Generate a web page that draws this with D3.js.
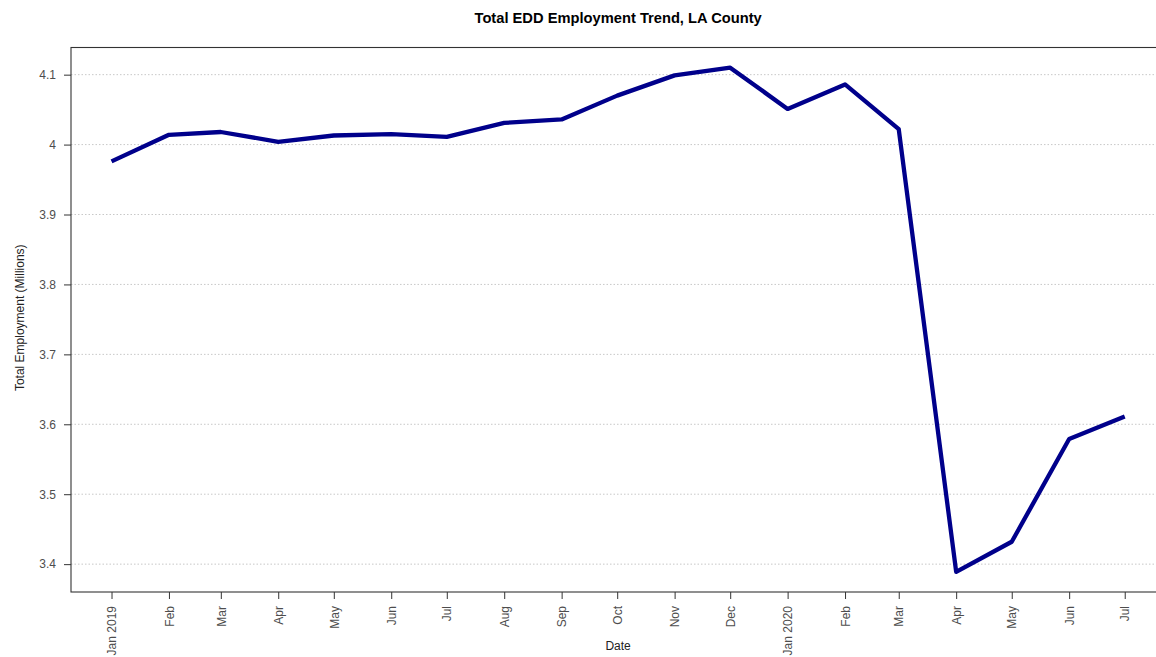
<!DOCTYPE html>
<html>
<head>
<meta charset="utf-8">
<script src="https://cdn.jsdelivr.net/npm/d3@7"></script>
<style>
  html, body { margin: 0; padding: 0; background: #fff; }
  svg { display: block; font-family: "Liberation Sans", Arial, sans-serif; }
</style>
</head>
<body>
<svg id="chart" width="1156" height="657"></svg>
<script>
// Monthly total employment, LA County (millions)
const months = ["2019-01-01","2019-02-01","2019-03-01","2019-04-01","2019-05-01","2019-06-01",
                "2019-07-01","2019-08-01","2019-09-01","2019-10-01","2019-11-01","2019-12-01",
                "2020-01-01","2020-02-01","2020-03-01","2020-04-01","2020-05-01","2020-06-01","2020-07-01"];
const employment = [3.976, 4.014, 4.018, 4.004, 4.013, 4.015,
                    4.011, 4.031, 4.036, 4.070, 4.099, 4.110,
                    4.051, 4.086, 4.022, 3.389, 3.432, 3.579, 3.611];
const monthLabels = ["Jan 2019","Feb","Mar","Apr","May","Jun","Jul","Aug","Sep","Oct","Nov","Dec",
                     "Jan 2020","Feb","Mar","Apr","May","Jun","Jul"];
const yTicks = [3.4, 3.5, 3.6, 3.7, 3.8, 3.9, 4.0, 4.1];

(function () {
  const parse = d3.utcParse("%Y-%m-%d");
  const data = months.map((m, i) => ({ date: parse(m), value: employment[i] }));

  const svg = d3.select("#chart");
  const panelLeft = 71, panelTop = 47.5, panelBottom = 592;

  // 4% padding on each side of the data range
  const xExt = d3.extent(data, d => d.date);
  const xPad = (xExt[1] - xExt[0]) * 0.04;
  const xDomain = [new Date(+xExt[0] - xPad), new Date(+xExt[1] + xPad)];
  const pxPerMs = (1125.5 - 112.3) / (xExt[1] - xExt[0]);
  const panelRight = panelLeft + (xDomain[1] - xDomain[0]) * pxPerMs;

  const yExt = d3.extent(employment);
  const yPad = (yExt[1] - yExt[0]) * 0.04;

  const x = d3.scaleUtc().domain(xDomain).range([panelLeft, panelRight]);
  const y = d3.scaleLinear().domain([yExt[0] - yPad, yExt[1] + yPad]).range([panelBottom, panelTop]);

  svg.append("defs").append("clipPath").attr("id", "panel")
    .append("rect").attr("x", panelLeft).attr("y", panelTop)
    .attr("width", panelRight - panelLeft).attr("height", panelBottom - panelTop);

  // horizontal dotted grid
  svg.append("g").selectAll("line").data(yTicks).join("line")
    .attr("x1", panelLeft).attr("x2", panelRight)
    .attr("y1", d => y(d)).attr("y2", d => y(d))
    .attr("stroke", "#c8c8c8").attr("stroke-width", 1)
    .attr("stroke-dasharray", "1.5,2");

  // employment line
  svg.append("path")
    .datum(data)
    .attr("clip-path", "url(#panel)")
    .attr("fill", "none")
    .attr("stroke", "#00008B")
    .attr("stroke-width", 4.3)
    .attr("stroke-linejoin", "round")
    .attr("stroke-linecap", "butt")
    .attr("d", d3.line().x(d => x(d.date)).y(d => y(d.value)));

  // y axis
  const yAxis = svg.append("g")
    .attr("transform", `translate(${panelLeft},0)`)
    .call(d3.axisLeft(y).tickValues(yTicks).tickSize(7).tickPadding(8)
      .tickFormat(d => String(+d.toFixed(1))));
  yAxis.select(".domain").remove();
  yAxis.selectAll(".tick line").attr("stroke", "#333");
  yAxis.selectAll("text").attr("fill", "#4d4d4d").attr("font-size", 12)
    .attr("font-family", "Liberation Sans, Arial, sans-serif");

  // x axis
  const xAxis = svg.append("g")
    .attr("transform", `translate(0,${panelBottom})`)
    .call(d3.axisBottom(x).tickValues(data.map(d => d.date)).tickSize(7)
      .tickFormat((d, i) => monthLabels[i]));
  xAxis.select(".domain").remove();
  xAxis.selectAll(".tick line").attr("stroke", "#333");
  xAxis.selectAll("text")
    .attr("fill", "#4d4d4d").attr("font-size", 12)
    .attr("font-family", "Liberation Sans, Arial, sans-serif")
    .attr("text-anchor", "end")
    .attr("transform", "rotate(-90)")
    .attr("x", -14).attr("y", 0).attr("dy", "0.35em");

  // panel border
  svg.append("rect")
    .attr("x", panelLeft).attr("y", panelTop)
    .attr("width", panelRight - panelLeft).attr("height", panelBottom - panelTop)
    .attr("fill", "none").attr("stroke", "#333").attr("stroke-width", 1.1);

  // titles
  svg.append("text")
    .attr("x", (panelLeft + panelRight) / 2).attr("y", 23)
    .attr("text-anchor", "middle")
    .attr("font-size", 14.7).attr("font-weight", "bold").attr("fill", "#000")
    .text("Total EDD Employment Trend, LA County");

  svg.append("text")
    .attr("x", (panelLeft + panelRight) / 2).attr("y", 650)
    .attr("text-anchor", "middle")
    .attr("font-size", 12).attr("fill", "#222")
    .text("Date");

  svg.append("text")
    .attr("transform", `translate(24,${(panelTop + panelBottom) / 2 - 2}) rotate(-90)`)
    .attr("text-anchor", "middle")
    .attr("font-size", 12).attr("fill", "#222")
    .text("Total Employment (Millions)");
})();
</script>
</body>
</html>
